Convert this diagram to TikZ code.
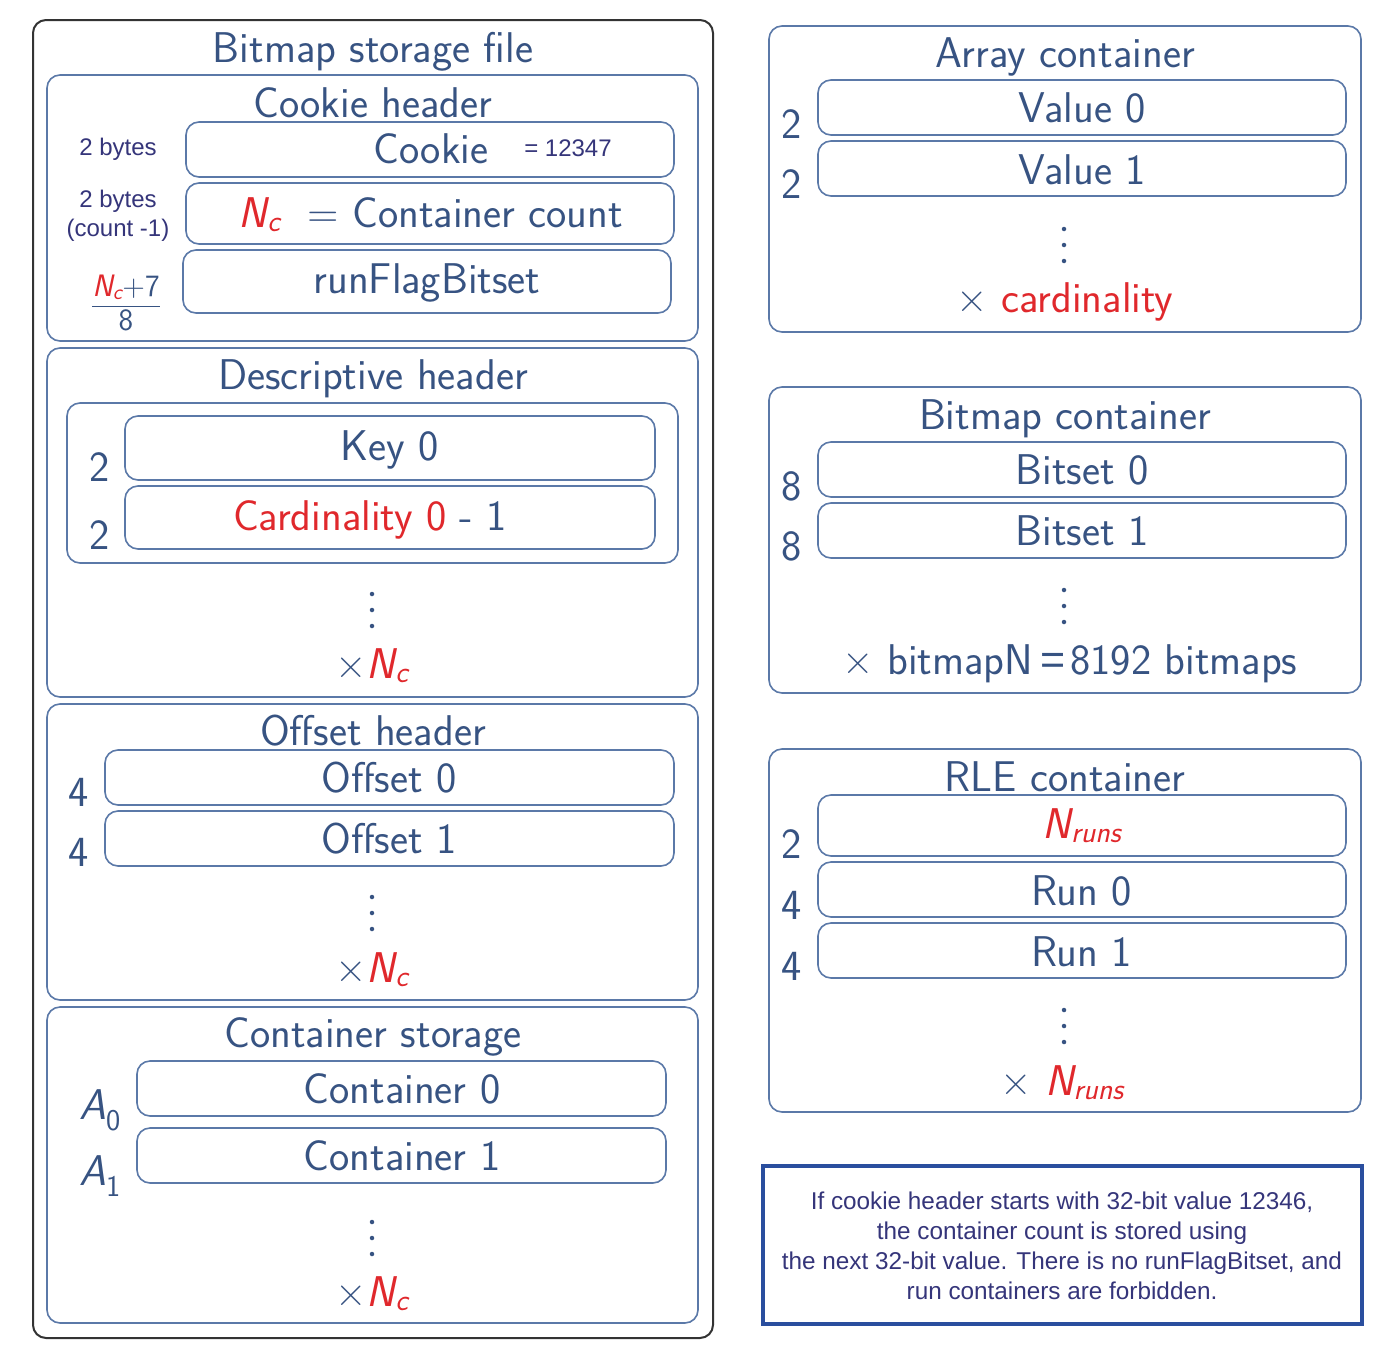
\documentclass[tikz,border=0pt]{standalone}
\usepackage{amsmath}
\usepackage{fontspec}
\setsansfont{Latin Modern Sans}
\newfontfamily\arialf{Liberation Sans}
\definecolor{tc}{HTML}{375382}
\definecolor{bc}{HTML}{5B79A8}
\definecolor{rc}{HTML}{E0282C}
\definecolor{oc}{HTML}{333333}
\definecolor{nb}{HTML}{2A4E9E}
\definecolor{nt}{HTML}{35357A}
\newcommand\bigf{\sffamily\fontsize{43}{49}\selectfont}
\newcommand\fracf{\sffamily\fontsize{31}{36}\selectfont}
\newcommand\smallf{\arialf\fontsize{24}{29}\selectfont}
\newcommand\notef{\arialf\fontsize{24.3}{30}\selectfont}
\newcommand\Nc{\ensuremath{\textit{N}_{\textit{c}}}}
\newcommand\Nruns{\ensuremath{\textit{N}_{\textit{runs}}}}
\newcommand\mkbox[6]{\node[#1,minimum width={#5-#3},minimum height={#6-#4}] (#2) at ({(#3+#5)/2},{(#4+#6)/2}) {};}
\tikzset{
  boxbase/.style={inner sep=0pt,outer sep=0pt,rounded corners=13pt},
  outerbox/.style={boxbase,draw=oc,line width=2pt},
  secbox/.style={boxbase,draw=bc,line width=1.6pt},
  cell/.style={boxbase,draw=bc,line width=1.6pt},
  notebox/.style={inner sep=0pt,outer sep=0pt,draw=nb,line width=3.5pt},
  txt/.style={inner sep=0pt,outer sep=0pt,text=tc,font=\bigf,anchor=base},
  sml/.style={inner sep=0pt,outer sep=0pt,text=nt,font=\smallf,anchor=base},
  dotc/.style={circle,fill=tc,inner sep=0pt,minimum size=4.5pt},
}
\newcommand\vdts[3]{%
  \node[dotc] (#1a) at (#2,#3) {};
  \node[dotc] (#1b) at (#2,#3+16) {};
  \node[dotc] (#1c) at (#2,#3+32) {};}
\begin{document}
\begin{tikzpicture}[x=1pt,y=-1pt]
\useasboundingbox[fill=white] (0,0) rectangle (1392,1352);

% ---------- left: Bitmap storage file ----------
\mkbox{outerbox}{file}{33}{20}{713}{1338}
\node[txt] (tfile) at (373,62) {Bitmap storage file};

% Cookie header
\mkbox{secbox}{cookiehdr}{47}{75}{698}{341}
\node[txt] (tcookiehdr) at (373,117) {Cookie header};
\mkbox{cell}{cookie}{186}{122}{674}{177}
\mkbox{cell}{count}{186}{183}{674}{244}
\mkbox{cell}{runflag}{183}{250}{671}{313}
\node[txt] (tcookie) at (431,163) {Cookie};
\node[sml] (tval) at (568,156) {= 12347};
\node[txt] (tcount) at (431,227) {{\color{rc}\Nc}\ \ = Container count};
\node[txt] (trunflag) at (427,293) {runFlagBitset};
\node[sml] (l2b) at (118,155) {2 bytes};
\node[sml] (l2bb) at (118,207) {2 bytes};
\node[sml] (lcnt) at (118,236) {(count -1)};
\node[inner sep=0pt,text=tc,font=\fracf] (lfrac) at (126,303) {$\dfrac{{\color{rc}\Nc}\text{+7}}{\text{8}}$};

% Descriptive header
\mkbox{secbox}{deschdr}{47}{348}{698}{697}
\node[txt] (tdeschdr) at (373,389) {Descriptive header};
\mkbox{secbox}{descgrp}{67}{403}{678}{563}
\mkbox{cell}{key}{125}{416}{655}{480}
\mkbox{cell}{card}{125}{486}{655}{549}
\node[txt] (tkey) at (390,460) {Key 0};
\node[txt] (tcard) at (370,530) {{\color{rc}Cardinality 0} - 1};
\node[txt] (lk2) at (100,481) {2};
\node[txt] (lc2) at (100,549) {2};
\vdts{dd}{372}{594}
\node[txt] (tdescn) at (372,678) {×{\color{rc}\Nc}};

% Offset header
\mkbox{secbox}{offhdr}{47}{704}{698}{1000}
\node[txt] (toffhdr) at (373,745) {Offset header};
\mkbox{cell}{off0}{105}{750}{674}{805}
\mkbox{cell}{off1}{105}{811}{674}{866}
\node[txt] (toff0) at (389,792) {Offset 0};
\node[txt] (toff1) at (389,853) {Offset 1};
\node[txt] (lo0) at (79,806) {4};
\node[txt] (lo1) at (79,866) {4};
\vdts{od}{372}{897}
\node[txt] (toffn) at (372,982) {×{\color{rc}\Nc}};

% Container storage
\mkbox{secbox}{cshdr}{47}{1007}{698}{1323}
\node[txt] (tcshdr) at (373,1047) {Container storage};
\mkbox{cell}{cont0}{137}{1061}{666}{1116}
\mkbox{cell}{cont1}{137}{1128}{666}{1183}
\node[txt] (tcont0) at (402,1103) {Container 0};
\node[txt] (tcont1) at (402,1170) {Container 1};
\node[txt] (la0) at (100,1119) {$\textit{A}_{\text{0}}$};
\node[txt] (la1) at (100,1185) {$\textit{A}_{\text{1}}$};
\vdts{cd}{372}{1222}
\node[txt] (tcsn) at (372,1306) {×{\color{rc}\Nc}};

% ---------- right: Array container ----------
\mkbox{secbox}{arr}{769}{26}{1361}{332}
\node[txt] (tarr) at (1065,67) {Array container};
\mkbox{cell}{val0}{818}{80}{1346}{135}
\mkbox{cell}{val1}{818}{141}{1346}{196}
\node[txt] (tval0) at (1082,122) {Value 0};
\node[txt] (tval1) at (1082,184) {Value 1};
\node[txt] (lv0) at (792,138) {2};
\node[txt] (lv1) at (792,198) {2};
\vdts{ad}{1064}{229}
\node[txt] (tarrn) at (1065,312) {× {\color{rc}cardinality}};

% Bitmap container
\mkbox{secbox}{bmp}{769}{387}{1361}{693}
\node[txt] (tbmp) at (1065,429) {Bitmap container};
\mkbox{cell}{bs0}{818}{442}{1346}{497}
\mkbox{cell}{bs1}{818}{503}{1346}{558}
\node[txt] (tbs0) at (1082,484) {Bitset 0};
\node[txt] (tbs1) at (1082,545) {Bitset 1};
\node[txt] (lb0) at (792,500) {8};
\node[txt] (lb1) at (792,560) {8};
\vdts{bd}{1064}{590}
\node[txt] (tbmpn) at (1070,674) {× bitmapN\hspace{7pt}{\arialf=}\hspace{5pt}8192 bitmaps};

% RLE container
\mkbox{secbox}{rle}{769}{749}{1361}{1112}
\node[txt] (trle) at (1065,791) {RLE container};
\mkbox{cell}{nruns}{818}{795}{1346}{856}
\mkbox{cell}{run0}{818}{862}{1346}{917}
\mkbox{cell}{run1}{818}{923}{1346}{978}
\node[txt] (tnruns) at (1082,838) {\color{rc}\Nruns};
\node[txt] (trun0) at (1082,905) {Run 0};
\node[txt] (trun1) at (1082,966) {Run 1};
\node[txt] (lr0) at (792,858) {2};
\node[txt] (lr1) at (792,919) {4};
\node[txt] (lr2) at (792,980) {4};
\vdts{rd}{1064}{1010}
\node[txt] (trlen) at (1062,1095) {× {\color{rc}\Nruns}};

% Note
\mkbox{notebox}{note}{763}{1166}{1362}{1324}
\node[inner sep=0pt,text=nt,font=\notef,align=center] (tnote) at (1062,1246)
  {If cookie header starts with 32-bit value 12346,\\
   the container count is stored using\\
   the next 32-bit value. There is no runFlagBitset, and\\
   run containers are forbidden.};
\end{tikzpicture}
\end{document}
